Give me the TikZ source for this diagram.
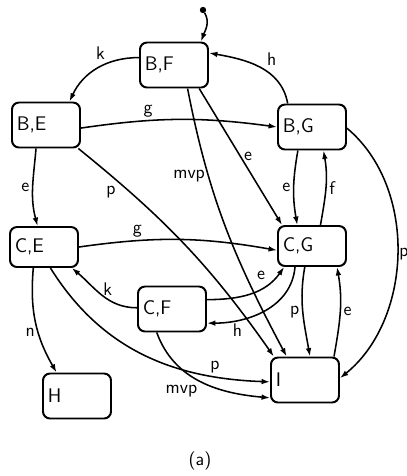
\documentclass[tikz,border=0pt]{standalone}
\usepackage{tikz}
\usetikzlibrary{arrows.meta}

\tikzset{
  state/.style      = {draw, line width=1.4pt, rounded corners=5pt, text width=1.46cm, align=left,
                       inner xsep=0.12cm, minimum height=1.125cm, font=\sffamily\fontsize{14}{16}\selectfont},
  shortstate/.style = {state, minimum height=1cm},
  lbl/.style        = {font=\sffamily\fontsize{13}{15}\selectfont, inner sep=2pt},
  trans/.style      = {line width=1.1pt, -{Latex[length=6pt,width=4pt]}},
}

\begin{document}
\begin{tikzpicture}[x=0.025cm, y=-0.025cm]
        \useasboundingbox (0,0) rectangle (407,476);
        \node [state]      (BF) at (174,65)  {B,F};                  %top
        \node [state]      (BE) at (46,125)  {B,E};                  %
        \node [state]      (BG) at (312,127) {B,G};                  %
        \node [shortstate] (CE) at (44,247)  {C,E};                  %middle
        \node [shortstate] (CG) at (312,246) {C,G};                  %
        \node [state]      (CF) at (172,309) {C,F};                  %
        \node [state]      (H)  at (77,396)  {H};                    %bottom
        \node [state]      (I)  at (305,380) {I};                    %
        \node [circle, fill, inner sep=1.6pt] (init) at (203,10) {}; %default entry
        \draw [trans] (init)   to [out=-60, in=70]  (BF.41);
        \draw [trans] (BF.168) to [out=180, in=65]  node [lbl, pos=0.35, above left] {k}   (BE.45);
        \draw [trans] (BG.136) to [out=100, in=-10] node [lbl, pos=0.45, above right] {h}  (BF.19);
        \draw [trans] (BE.-5)  to [bend left=8]     node [lbl, pos=0.33, above] {g}        (BG.180);
        \draw [trans] (BE.-113) to [out=-95, in=105] node [lbl, left] {e}                  (CE.107);
        \draw [trans] (BE.-36) to [out=-39, in=125] node [lbl, pos=0.17, below left] {p}   (I.143);
        \draw [trans] (BF.-60) to [out=-79, in=118] node [lbl, pos=0.3, left] {mvp}        (I.128);
        \draw [trans] (BF.-43) -- node [lbl, pos=0.5, right] {e}                           (CG.145);
        \draw [trans] (BG.-121) to [out=-100, in=100] node [lbl, left] {e}                 (CG.125);
        \draw [trans] (CG.68)  to [out=80, in=-80]  node [lbl, right] {f}                  (BG.-64);
        \draw [trans] (BG.-2)  to [out=-40, in=39, looseness=0.95] node [lbl, right, inner sep=1pt] {p} (I.3);
        \draw [trans] (CE.east) to [bend left=9]    node [lbl, pos=0.28, above] {g}        (CG.-173);
        \draw [trans] (CF.178) to [out=180, in=-40] node [lbl, pos=0.4, above] {k}         (CE.-37);
        \draw [trans] (CF.15)  to [out=0, in=-125]  node [lbl, pos=0.75, above left] {e}   (CG.-143);
        \draw [trans] (CG.-129) to [out=-95, in=0]  node [lbl, pos=0.75, below] {h}        (CF.-22);
        \draw [trans] (CG.-109) to [out=-100, in=100] node [lbl, left] {p}                 (I.78);
        \draw [trans] (I.39)   to [out=80, in=-80]  node [lbl, right] {e}                  (CG.-40);
        \draw [trans] (CE.-117) to [out=-95, in=120] node [lbl, pos=0.6, left] {n}         (H.131);
        \draw [trans] (CE.-73) to [out=-58, in=178] node [lbl, pos=0.8, above] {p}        (I.-177);
        \draw [trans] (CF.-123) to [out=-70, in=175] node [lbl, pos=0.5, below left] {mvp} (I.-153);
        \node [lbl] (cap) at (200,461) {(a)};                        %caption
\end{tikzpicture}
\end{document}
